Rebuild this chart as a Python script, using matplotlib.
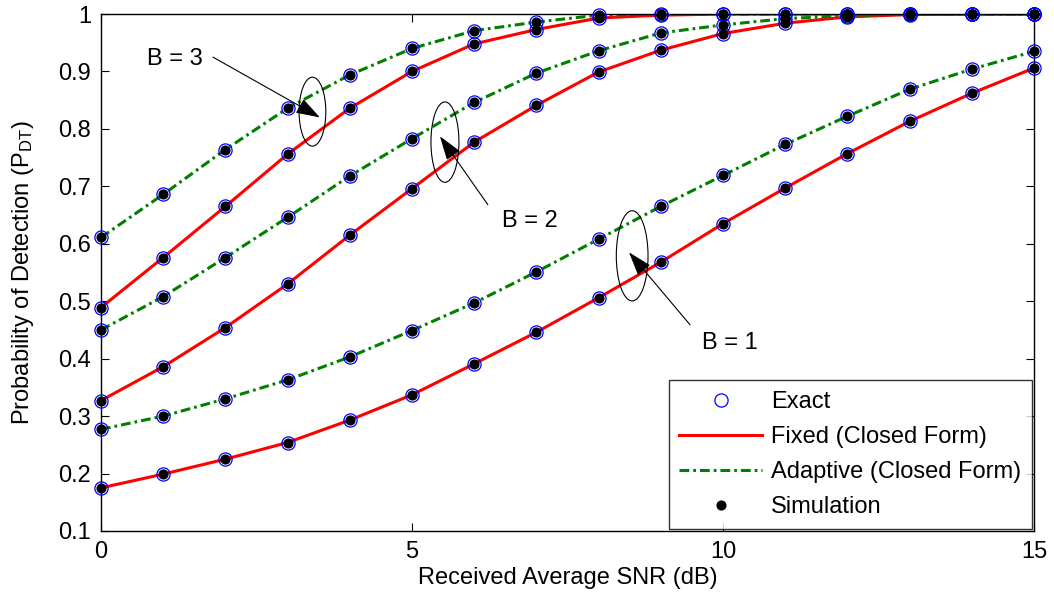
import matplotlib
matplotlib.use('Agg')
import matplotlib.pyplot as plt
from matplotlib.patches import Ellipse

plt.rcParams['font.family'] = ['Liberation Sans', 'DejaVu Sans']
plt.rcParams['mathtext.fontset'] = 'custom'
plt.rcParams['mathtext.rm'] = 'Liberation Sans'
plt.rcParams['mathtext.it'] = 'Liberation Sans:italic'

snr_db = list(range(16))

# detection probability, fixed threshold, closed form
fixed_b1 = [0.175, 0.199, 0.225, 0.254, 0.293, 0.337, 0.391, 0.446, 0.506, 0.568,
            0.635, 0.697, 0.757, 0.813, 0.862, 0.906]
fixed_b2 = [0.327, 0.386, 0.454, 0.530, 0.615, 0.696, 0.777, 0.841, 0.899, 0.937,
            0.966, 0.984, 0.995, 0.999, 1.000, 1.000]
fixed_b3 = [0.489, 0.576, 0.665, 0.756, 0.836, 0.900, 0.948, 0.973, 0.993, 0.998,
            1.000, 1.000, 1.000, 1.000, 1.000, 1.000]

# detection probability, adaptive threshold, closed form
adapt_b1 = [0.277, 0.300, 0.330, 0.363, 0.403, 0.449, 0.497, 0.551, 0.608, 0.665,
            0.719, 0.773, 0.822, 0.869, 0.904, 0.935]
adapt_b2 = [0.450, 0.508, 0.576, 0.646, 0.718, 0.783, 0.846, 0.897, 0.936, 0.967,
            0.981, 0.992, 0.997, 1.000, 1.000, 1.000]
adapt_b3 = [0.611, 0.686, 0.764, 0.836, 0.894, 0.940, 0.971, 0.986, 0.998, 1.000,
            1.000, 1.000, 1.000, 1.000, 1.000, 1.000]

fixed_curves = [fixed_b1, fixed_b2, fixed_b3]
adapt_curves = [adapt_b1, adapt_b2, adapt_b3]

x_ticks = [0, 5, 10, 15]
y_ticks = [0.1, 0.2, 0.3, 0.4, 0.5, 0.6, 0.7, 0.8, 0.9, 1.0]
y_tick_labels = ['0.1', '0.2', '0.3', '0.4', '0.5', '0.6', '0.7', '0.8', '0.9', '1']

FS = 17

fig = plt.figure(figsize=(10.54, 6.04), dpi=100)
ax = fig.add_axes([0.0958, 0.1209, 0.8852, 0.8559])

dashdot = (0, (3.2, 1.3, 0.9, 1.3))
for fixed, adapt in zip(fixed_curves, adapt_curves):
    ax.plot(snr_db, fixed, color='red', lw=2.2, zorder=2)
    ax.plot(snr_db, adapt, color='#008000', lw=2.2, ls=dashdot, zorder=2)

# exact values (open circles) and simulation (dots) on every curve
for curve in fixed_curves + adapt_curves:
    ax.plot(snr_db, curve, 'o', mfc='none', mec='blue', ms=9.5, mew=0.9,
            clip_on=False, zorder=3)
    ax.plot(snr_db, curve, 'o', color='black', ms=6.3, clip_on=False, zorder=4)

# legend proxies
h_exact, = ax.plot([], [], 'o', mfc='none', mec='blue', ms=9.5, mew=0.9)
h_fixed, = ax.plot([], [], color='red', lw=2.2)
h_adapt, = ax.plot([], [], color='#008000', lw=2.2, ls=dashdot)
h_sim, = ax.plot([], [], 'o', color='black', ms=6.3)
leg = ax.legend([h_exact, h_fixed, h_adapt, h_sim],
                ['Exact', 'Fixed (Closed Form)', 'Adaptive (Closed Form)', 'Simulation'],
                loc='lower right', fontsize=FS, frameon=True, fancybox=False,
                edgecolor='black', borderaxespad=0.08, handlelength=3.5,
                labelspacing=0.56, borderpad=0.45, handletextpad=0.4)
leg.get_frame().set_linewidth(1.0)
leg.set_zorder(5)

# group annotations
groups = [
    ('B = 3', (3.40, 0.830), 0.43, 0.120, (3.52, 0.820), (1.80, 0.925), (1.19, 0.921)),
    ('B = 2', (5.53, 0.777), 0.45, 0.140, (5.45, 0.787), (6.22, 0.668), (6.90, 0.639)),
    ('B = 1', (8.54, 0.579), 0.51, 0.157, (8.49, 0.585), (9.47, 0.459), (10.11, 0.428)),
]
for label, centre, w, h, head, tail, text_pos in groups:
    ax.add_patch(Ellipse(centre, w, h, fill=False, ec='black', lw=0.8, zorder=6))
    ax.annotate('', xy=head, xytext=tail,
                arrowprops=dict(arrowstyle='-|>,head_length=1.5,head_width=0.5',
                                color='black', lw=0.8, shrinkA=0, shrinkB=0),
                zorder=6)
    ax.text(text_pos[0], text_pos[1], label, fontsize=FS, ha='center', va='center')

ax.set_xlim(0, 15)
ax.set_ylim(0.1, 1.0)
ax.set_xticks(x_ticks)
ax.set_yticks(y_ticks)
ax.set_yticklabels(y_tick_labels)
ax.tick_params(direction='in', top=True, right=True, length=6, width=0.8,
               labelsize=FS, pad=7)
for spine in ax.spines.values():
    spine.set_linewidth(1.0)

ax.set_xlabel('Received Average SNR (dB)', fontsize=FS, labelpad=3)
ax.set_ylabel(r'Probability of Detection (P$_{\mathrm{DT}}$)', fontsize=FS, labelpad=16)

fig.savefig('out.png', dpi=100)
